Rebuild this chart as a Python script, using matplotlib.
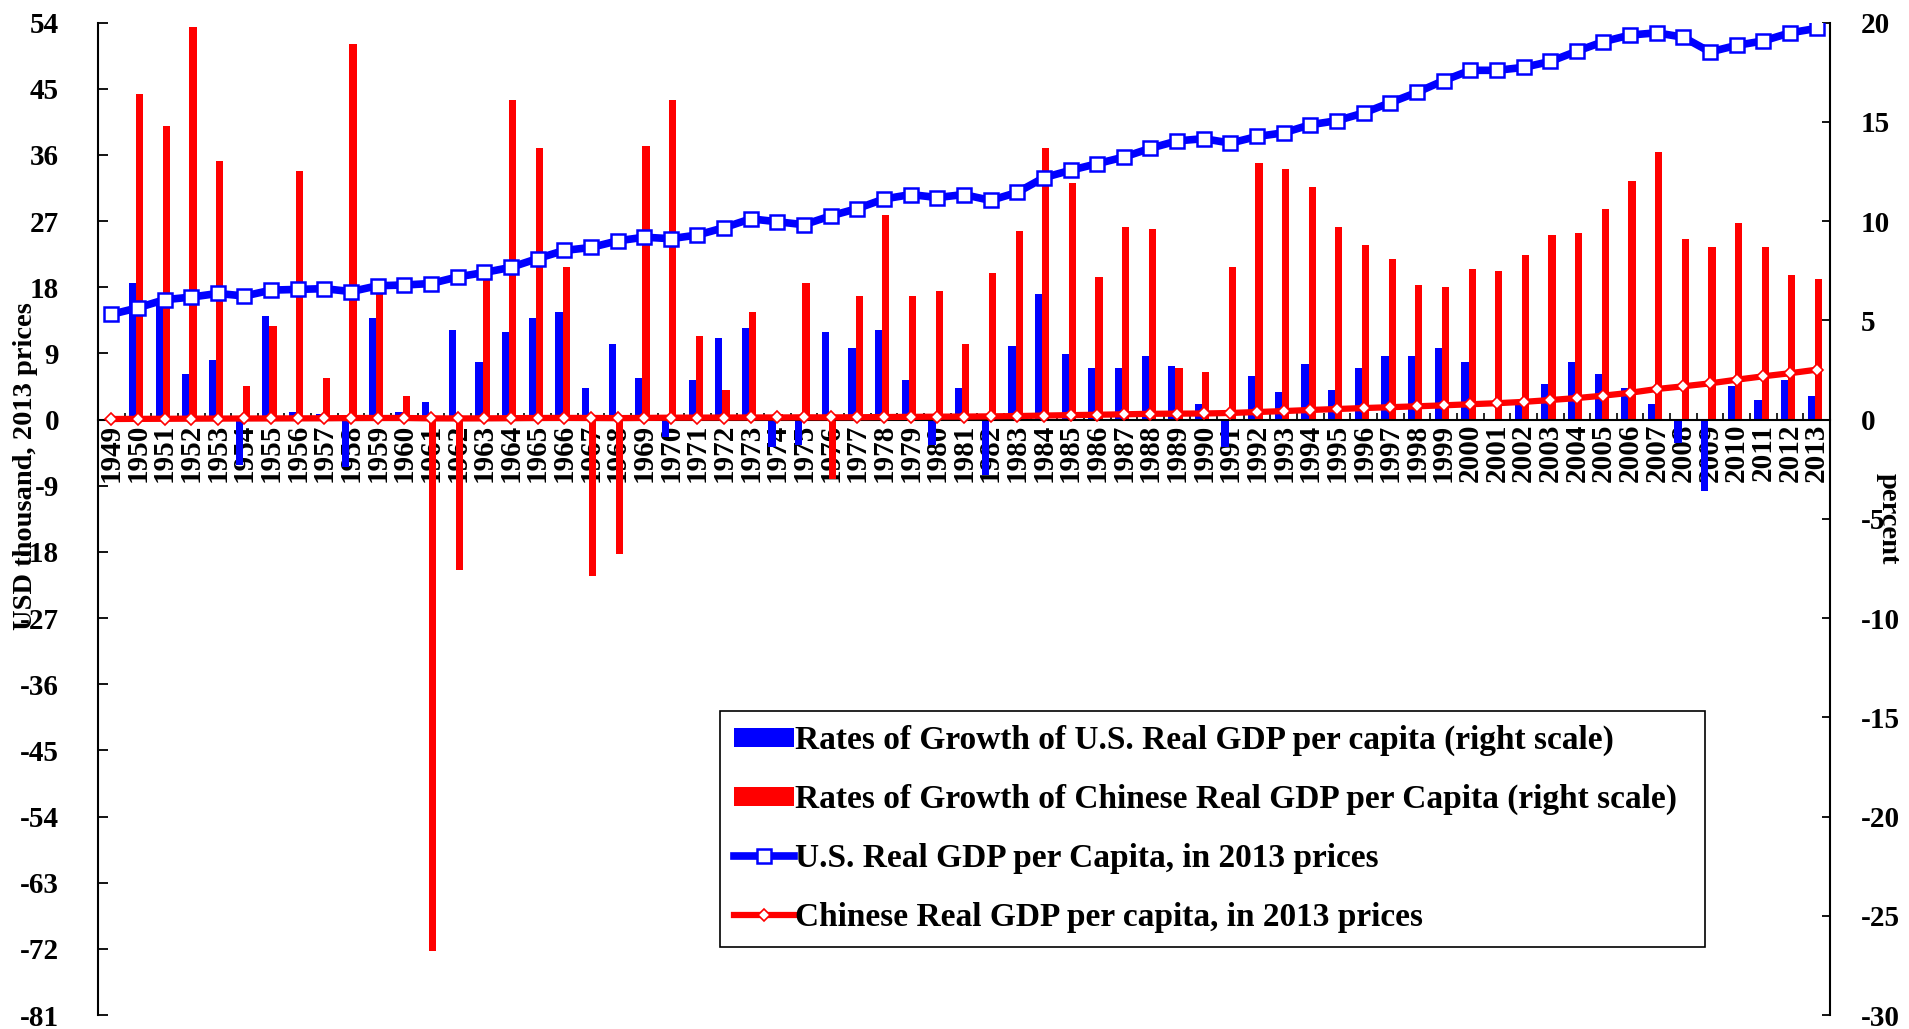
import matplotlib.pyplot as plt
import numpy as np

# categories
years = list(range(1949, 2014))

# growth rates, percent (right scale)
us_growth = [0.0, 6.9, 6.0, 2.3, 3.0, -2.3, 5.2, 0.4, 0.3, -2.4,
             5.1, 0.4, 0.9, 4.5, 2.9, 4.4, 5.1, 5.4, 1.6, 3.8,
             2.1, -0.9, 2.0, 4.1, 4.6, -1.4, -1.3, 4.4, 3.6, 4.5,
             2.0, -1.3, 1.6, -2.8, 3.7, 6.3, 3.3, 2.6, 2.6, 3.2,
             2.7, 0.8, -1.4, 2.2, 1.4, 2.8, 1.5, 2.6, 3.2, 3.2,
             3.6, 2.9, -0.05, 0.9, 1.8, 2.9, 2.3, 1.6, 0.8, -1.2,
             -3.6, 1.7, 1.0, 2.0, 1.2]
china_growth = [0.0, 16.4, 14.8, 19.8, 13.0, 1.7, 4.7, 12.5, 2.1, 18.9,
                6.5, 1.2, -26.8, -7.6, 7.1, 16.1, 13.7, 7.7, -7.9, -6.8,
                13.8, 16.1, 4.2, 1.5, 5.4, 0.3, 6.9, -3.0, 6.2, 10.3,
                6.2, 6.5, 3.8, 7.4, 9.5, 13.7, 11.9, 7.2, 9.7, 9.6,
                2.6, 2.4, 7.7, 12.9, 12.6, 11.7, 9.7, 8.8, 8.1, 6.8,
                6.7, 7.6, 7.5, 8.3, 9.3, 9.4, 10.6, 12.0, 13.5, 9.1,
                8.7, 9.9, 8.7, 7.3, 7.1]

# real GDP per capita, thousand USD in 2013 prices (left scale)
us_gdp = [14.3, 15.2, 16.3, 16.65, 17.15, 16.8, 17.6, 17.7, 17.8, 17.4,
          18.2, 18.3, 18.5, 19.4, 20.0, 20.7, 21.9, 23.0, 23.4, 24.3,
          24.8, 24.6, 25.1, 26.1, 27.3, 26.9, 26.5, 27.7, 28.7, 30.0,
          30.6, 30.2, 30.6, 29.8, 30.9, 32.9, 33.9, 34.8, 35.7, 36.9,
          37.9, 38.2, 37.6, 38.5, 39.0, 40.1, 40.65, 41.7, 43.1, 44.5,
          46.1, 47.5, 47.5, 47.9, 48.7, 50.1, 51.4, 52.3, 52.6, 52.0,
          50.0, 50.9, 51.5, 52.6, 53.2]
china_gdp = [0.07, 0.09, 0.10, 0.12, 0.13, 0.14, 0.15, 0.16, 0.17, 0.20,
             0.21, 0.21, 0.16, 0.15, 0.16, 0.18, 0.21, 0.22, 0.21, 0.19,
             0.22, 0.25, 0.26, 0.27, 0.28, 0.28, 0.30, 0.29, 0.31, 0.34,
             0.36, 0.39, 0.40, 0.43, 0.47, 0.54, 0.60, 0.65, 0.71, 0.78,
             0.80, 0.82, 0.89, 1.02, 1.15, 1.30, 1.43, 1.56, 1.68, 1.80,
             1.93, 2.08, 2.22, 2.40, 2.65, 2.92, 3.25, 3.64, 4.15, 4.52,
             4.92, 5.42, 5.88, 6.30, 6.78]

labels = ["Rates of Growth of U.S. Real GDP per capita (right scale)",
          "Rates of Growth of Chinese Real GDP per Capita (right scale)",
          "U.S. Real GDP per Capita, in 2013 prices",
          "Chinese Real GDP per capita, in 2013 prices"]

plt.rcParams['font.family'] = ['Liberation Serif', 'DejaVu Serif']
plt.rcParams['font.weight'] = 'bold'
plt.rcParams['axes.unicode_minus'] = False

fig = plt.figure(figsize=(19.09, 10.29), dpi=100)
ax = fig.add_axes([0.0513, 0.0136, 0.9073, 0.9645])   # left scale, lines
ax2 = ax.twinx()                                        # right scale, bars
ax.set_zorder(ax2.get_zorder() + 1)
ax.patch.set_visible(False)

x = np.arange(len(years))
b1 = ax2.bar(x - 0.2, us_growth, width=0.27, color='#0000ff', linewidth=0)
b2 = ax2.bar(x + 0.07, china_growth, width=0.27, color='#ff0000', linewidth=0)

l1, = ax.plot(x, us_gdp, color='#0000ff', lw=5.5, marker='s', ms=9.5,
              mfc='white', mec='#0000ff', mew=1.8)
l2, = ax.plot(x, china_gdp, color='#ff0000', lw=4.5, marker='D', ms=6.5,
              mfc='white', mec='#ff0000', mew=1.2)

ax.set_xlim(-0.5, len(years) - 0.5)
ax.set_ylim(-81, 54)
ax2.set_ylim(-30, 20)
ax.set_yticks(range(-81, 55, 9))
ax2.set_yticks(range(-30, 21, 5))

# x axis lives on the bar axes, sitting on the zero line, under the bars
ax.xaxis.set_visible(False)
ax2.xaxis.set_visible(True)
ax2.set_axisbelow(True)
ax2.spines['bottom'].set_position(('data', 0))
ax2.set_xticks(np.arange(-0.5, len(years), 1))
ax2.set_xticks(x, labels=[str(y) for y in years], minor=True)
ax2.tick_params(axis='x', which='major', direction='in', length=5,
                width=1.2, labelbottom=False)
ax2.tick_params(axis='x', which='minor', length=0, pad=3, labelsize=21,
                labelrotation=90)

for s in ['top', 'right', 'bottom']:
    ax.spines[s].set_visible(False)
for s in ['top', 'left']:
    ax2.spines[s].set_visible(False)
for sp in [ax.spines['left'], ax2.spines['right'], ax2.spines['bottom']]:
    sp.set_linewidth(1.5)

ax.tick_params(axis='y', direction='in', length=7, width=1.3, pad=28,
               labelsize=21)
ax2.tick_params(axis='y', direction='in', length=6, width=1.3, pad=22,
                labelsize=21)

fig.text(26 / 1909, 1 - 466 / 1029, 'USD thousand, 2013 prices',
         rotation=90, ha='center', va='center', fontsize=20.5,
         fontweight='bold')
fig.text(1888 / 1909, 1 - 519 / 1029, 'percent', rotation=270,
         ha='center', va='center', fontsize=20.5, fontweight='bold')

leg = ax.legend([b1, b2, l1, l2], labels, loc='lower left',
                bbox_to_anchor=(0.359, 0.069, 0.569, 0.232), mode='expand',
                fancybox=False, edgecolor='black', framealpha=1,
                borderpad=0.42, labelspacing=0.83, handlelength=1.8,
                handleheight=0.5, handletextpad=0.05, borderaxespad=0,
                fontsize=24)
leg.get_frame().set_linewidth(1.2)

fig.savefig('out.png', dpi=100)
